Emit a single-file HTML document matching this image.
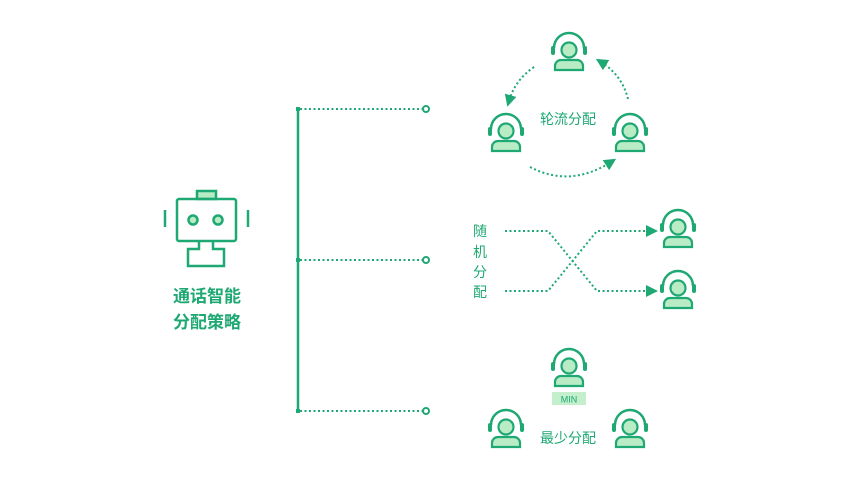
<!DOCTYPE html>
<html><head><meta charset="utf-8"><style>
body{margin:0;background:#fff;}
svg{display:block;}
text{font-family:"Liberation Sans","Noto Sans CJK SC",sans-serif;fill:#1ea873;}
</style></head><body>
<svg width="864" height="485" viewBox="0 0 864 485" xmlns="http://www.w3.org/2000/svg">
<defs>
<g id="ag">
  <path d="M-15,1 A15,15 0 0 1 15,1" fill="none" stroke="#1ea873" stroke-width="2.5"/>
  <rect x="-18" y="-1" width="4" height="9" rx="2" fill="#1ea873"/>
  <rect x="14" y="-1" width="4" height="9" rx="2" fill="#1ea873"/>
  <path d="M-14,23 L-14,19 A6,6 0 0 1 -8,13 L8,13 A6,6 0 0 1 14,19 L14,23 Z" fill="#b9ecc4" stroke="#1ea873" stroke-width="2.2"/>
  <circle cx="0" cy="3" r="7.5" fill="#b9ecc4" stroke="#1ea873" stroke-width="2.2"/>
</g>
<marker id="ar" viewBox="0 0 10 10" refX="5" refY="5" markerWidth="6" markerHeight="6" orient="auto"><path d="M0,0 L10,5 L0,10 Z" fill="#1ea873"/></marker>
</defs>
<g fill="none" stroke="#1ea873" stroke-width="2.5">
  <rect x="197" y="191" width="19" height="8" fill="#b9ecc4"/>
  <rect x="177" y="199" width="59" height="42" rx="2"/>
  <line x1="165" y1="210" x2="165" y2="227"/>
  <line x1="248" y1="210" x2="248" y2="227"/>
  <circle cx="193" cy="220" r="4.5" fill="#b9ecc4"/>
  <circle cx="218" cy="220" r="4.5" fill="#b9ecc4"/>
  <path d="M199,241 L199,249 L188,249 L188,266 L224,266 L224,249 L213,249 L213,241"/>
</g>
<text x="207" y="302" font-size="17" font-weight="bold" text-anchor="middle">通话智能</text>
<text x="207" y="328" font-size="17" font-weight="bold" text-anchor="middle">分配策略</text>
<line x1="298" y1="107" x2="298" y2="412" stroke="#1ea873" stroke-width="2.5"/>
<g stroke="#1ea873" stroke-width="2" stroke-dasharray="2 2.5" fill="none">
  <line x1="300" y1="109" x2="423" y2="109"/>
  <line x1="300" y1="260" x2="423" y2="260"/>
  <line x1="300" y1="411" x2="423" y2="411"/>
</g>
<rect x="296" y="107" width="4" height="4" fill="#1ea873"/>
<rect x="296" y="258" width="4" height="4" fill="#1ea873"/>
<rect x="296" y="409" width="4" height="4" fill="#1ea873"/>
<g fill="#fff" stroke="#1ea873" stroke-width="2">
  <circle cx="426" cy="109" r="3"/><circle cx="426" cy="260" r="3"/><circle cx="426" cy="411" r="3"/>
</g>
<g stroke="#1ea873" stroke-width="2" stroke-dasharray="2 2.5" fill="none" marker-end="url(#ar)">
  <path d="M534,67 Q515,80 509,101"/>
  <path d="M628,99 Q622,75 601,62"/>
  <path d="M530,167 Q570,188 611,162"/>
  <path d="M505,231 L548,231 L597,291 L652,291"/>
  <path d="M505,291 L548,291 L597,231 L652,231"/>
</g>
<use href="#ag" x="569" y="47"/>
<use href="#ag" x="506" y="128"/>
<use href="#ag" x="630" y="128"/>
<use href="#ag" x="678" y="224"/>
<use href="#ag" x="678" y="285"/>
<use href="#ag" x="569" y="363"/>
<use href="#ag" x="506" y="424"/>
<use href="#ag" x="630" y="424"/>
<text x="568" y="124" font-size="14" text-anchor="middle">轮流分配</text>
<g font-size="14" text-anchor="middle">
  <text x="480" y="236">随</text><text x="480" y="257">机</text><text x="480" y="277">分</text><text x="480" y="297">配</text>
</g>
<rect x="552" y="392" width="34" height="13" fill="#c3efcc"/>
<text x="569" y="402.5" font-size="9" text-anchor="middle">MIN</text>
<text x="568" y="443" font-size="14" text-anchor="middle">最少分配</text>
</svg>
</body></html>
